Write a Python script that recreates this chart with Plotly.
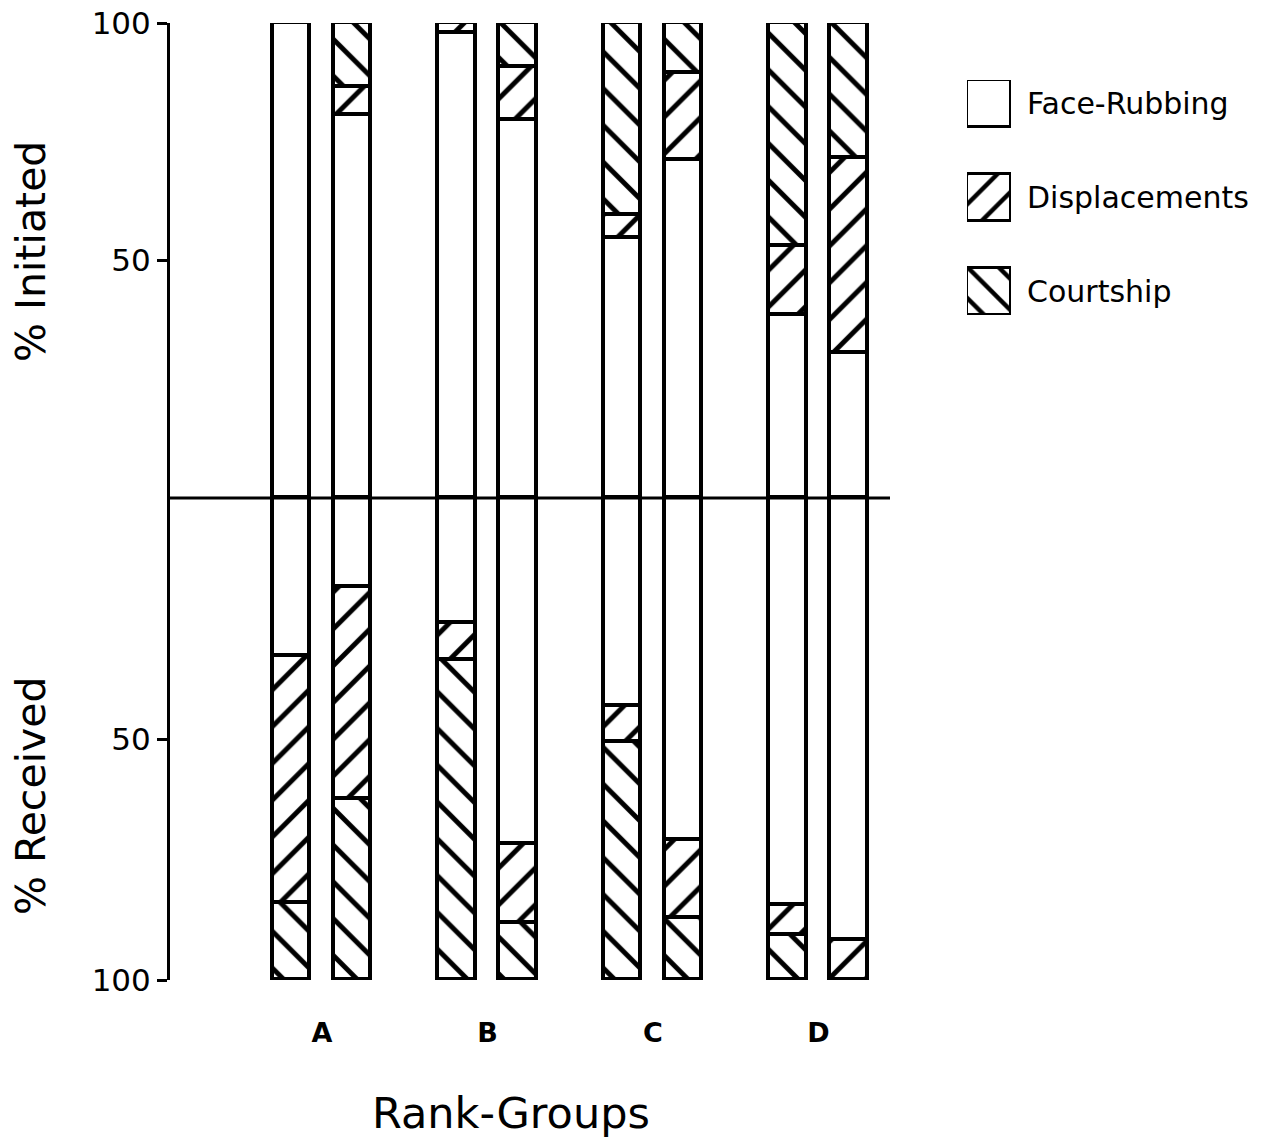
import numpy as np
import plotly.graph_objects as go

# Rank-groups, each with a pair of bars
groups = ["A", "B", "C", "D"]
bars_per_group = 2

# % of interactions initiated (upper half), per bar: A1, A2, B1, B2, C1, C2, D1, D2
init_face = [100.0, 80.6, 97.9, 79.6, 54.7, 71.2, 38.5, 30.5]
init_disp = [0.0, 5.9, 2.1, 11.1, 4.9, 18.3, 14.6, 41.1]
init_court = [0.0, 13.5, 0.0, 9.3, 40.4, 10.5, 46.9, 28.4]

# % of interactions received (lower half)
recv_face = [32.8, 18.5, 25.9, 71.8, 43.2, 71.0, 84.4, 91.7]
recv_disp = [51.2, 43.9, 7.7, 16.4, 7.4, 16.1, 6.3, 8.3]
recv_court = [16.0, 37.6, 66.4, 11.8, 49.4, 12.9, 9.3, 0.0]

behaviours = ["Face-Rubbing", "Displacements", "Courtship"]
hatches = ["", "/", "\\"]

# ---- geometry ----------------------------------------------------------
W, H = 1268, 1139
M_L, M_R, M_T, M_B = 170, 0, 23, 159
PLOT_W = W - M_L - M_R
PLOT_H = H - M_T - M_B
MAIN_W = 720                      # width of the bar panel in px
SPLIT = (980 - 498) / PLOT_H      # where the initiated/received halves meet

PAIR_OFFSET = 0.184
BAR_WIDTH = 0.228
gidx = np.repeat(np.arange(len(groups)), bars_per_group)
side = np.tile([-1, 1], len(groups))
xpos = gidx + side * PAIR_OFFSET

FONT = "DejaVu Sans"
OUTLINE = dict(color="black", width=3.6)


def hatched(shape, size=26, solidity=0.19):
    return dict(shape=shape, fgcolor="black", bgcolor="white", fgopacity=1,
                size=size, solidity=solidity)


def px_x(px):
    return (px - M_L) / PLOT_W


def px_y(px):
    return (980 - px) / PLOT_H


fig = go.Figure()

upper = [init_face, init_disp, init_court]
lower = [recv_face, recv_disp, recv_court]
for name, shp, up, lo in zip(behaviours, hatches, upper, lower):
    fig.add_trace(go.Bar(
        x=xpos, y=up, width=BAR_WIDTH, name=name,
        xaxis="x", yaxis="y", showlegend=False,
        marker=dict(color="white", line=OUTLINE, pattern=hatched(shp)),
    ))
    fig.add_trace(go.Bar(
        x=xpos, y=lo, width=BAR_WIDTH, name=name,
        xaxis="x", yaxis="y2", showlegend=False,
        marker=dict(color="white", line=OUTLINE, pattern=hatched(shp)),
    ))

# key swatches, drawn as hatched boxes on their own small axes
fig.add_trace(go.Bar(
    orientation="h", x=[1, 1, 1], y=[0, 1, 2], width=0.5,
    xaxis="x3", yaxis="y3", showlegend=False, hoverinfo="skip",
    marker=dict(color="white", line=dict(color="black", width=3.4),
                pattern=dict(shape=hatches, fgcolor="black", bgcolor="white",
                             fgopacity=1, size=22, solidity=0.2)),
))

axis_common = dict(
    showgrid=False, zeroline=False, showline=True, linecolor="black",
    linewidth=3, ticks="outside", ticklen=10, tickwidth=2.5,
    tickcolor="black", tickvals=[50, 100], ticktext=["50", "100"],
    tickfont=dict(family=FONT, size=31, color="black"), anchor="x",
)

fig.update_layout(
    width=W, height=H,
    margin=dict(l=M_L, r=M_R, t=M_T, b=M_B, pad=0),
    paper_bgcolor="white", plot_bgcolor="white",
    barmode="stack", bargap=0,
    xaxis=dict(
        domain=[0, MAIN_W / PLOT_W], range=[-0.918, 3.432],
        anchor="y2", showgrid=False, zeroline=False, showline=False,
        tickvals=list(range(len(groups))), ticktext=groups, ticks="",
        ticklabelstandoff=34,
        tickfont=dict(family=FONT, size=27, color="black", weight="bold"),
    ),
    yaxis=dict(domain=[SPLIT, 1], range=[0, 100], **axis_common),
    yaxis2=dict(domain=[0, SPLIT], range=[100, 0], **axis_common),
    xaxis3=dict(domain=[px_x(967), px_x(1011)],
                range=[0, 1], visible=False, anchor="y3"),
    yaxis3=dict(domain=[px_y(315), px_y(80)],
                range=[2.25, -0.25], visible=False, anchor="x3"),
)

# baseline dividing initiated from received
fig.add_shape(type="line", xref="paper", yref="paper",
              x0=0, x1=MAIN_W / PLOT_W, y0=SPLIT, y1=SPLIT,
              line=dict(color="black", width=3.2), layer="above")

# axis titles
title_font = dict(family=FONT, size=41, color="black")
fig.add_annotation(text="% Initiated", textangle=-90, xref="paper", yref="paper",
                   x=px_x(31), y=px_y(252), xanchor="center", yanchor="middle",
                   showarrow=False, font=title_font)
fig.add_annotation(text="% Received", textangle=-90, xref="paper", yref="paper",
                   x=px_x(31), y=px_y(796), xanchor="center", yanchor="middle",
                   showarrow=False, font=title_font)
fig.add_annotation(text="Rank-Groups", xref="paper", yref="paper",
                   x=px_x(511), y=px_y(1113), xanchor="center", yanchor="middle",
                   showarrow=False, font=dict(family=FONT, size=43, color="black"))

# key labels
for i, name in enumerate(behaviours):
    fig.add_annotation(text=name, xref="paper", yref="y3",
                       x=px_x(1025), y=i, xanchor="left", yanchor="middle",
                       showarrow=False,
                       font=dict(family=FONT, size=30, color="black"))

fig.write_html("out.html")
